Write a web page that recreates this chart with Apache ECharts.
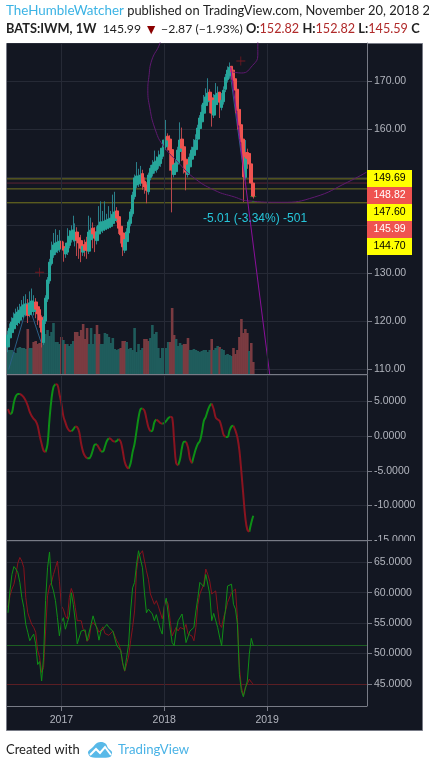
<!DOCTYPE html>
<html><head><meta charset="utf-8"><style>html,body{margin:0;padding:0;background:#fff}#c{width:429px;height:768px}</style>
<script src="https://cdn.jsdelivr.net/npm/echarts@6/dist/echarts.min.js"></script></head>
<body><div id="c"></div><script>
const yearLabels=['2017','2018','2019'];
const yearIndex=[27,79,131];
const totalWeeks=182;
const open=[114.6,116.5,117.6,118.4,119.3,119.7,120.2,120.9,121.4,121.6,
123.4,121.4,122,122,124,123,122.4,120.8,115.5,120,
124.6,128.4,132,133.8,134.4,134.8,135,136.7,135.6,134,
134.4,135.8,137,137.2,136.8,138.6,137.4,136.8,134.4,136,
136.5,134.6,137,139.4,138.6,136.8,138.2,138.8,139,139.2,
139.4,139.6,139.8,140.4,141,143,141.8,139.8,138.4,134.8,
136.6,138.4,140.4,142.4,146,148.4,148.6,148.8,150.8,149.2,
148.4,147,150,150.8,151.4,151.6,152.4,152.9,154.4,155.8,
156.4,158.6,158,155.8,150.6,151.2,152.8,155.4,158,156.4,
153.8,150.6,152.2,153.8,154.6,155.8,158,160.2,161.6,163.4,
165,165.8,167.8,166.6,163,165.2,165.8,167.8,164.6,165.8,
168.4,170.4,171.2,173.2,172.4,170.6,168.4,164.2,161,158,
150,155.2,155,152.82,148.82];
const close=[117.1,118.5,119.8,120.6,121.5,121.9,122.3,123,123.4,123.6,
121.2,123.8,124.2,123.6,122.5,121.5,120.2,117.7,120.2,124.8,
128.6,132.3,134.8,135.9,136.3,136.5,136.7,135.2,134.8,135.2,
136.3,137.7,138.8,139,138.5,136.9,136.3,135.2,135.6,134.8,
134.8,138.6,139,138.2,137.3,138.6,140,140.7,140.7,140.9,
141.1,141.3,141.5,142.3,142.8,141.5,139.4,138,135.5,137,
138.6,140.7,142.8,146.3,149.9,150.3,150.3,150.5,148.8,148,
147.3,150.5,151.9,152.6,153.2,153.4,154.2,154.7,156.1,157.8,
158.4,157.8,155.7,151.5,152.6,153,155.7,157.8,156.1,153.6,
151.1,152.6,154.2,155.7,156.3,157.8,160.3,162.4,163.6,165.5,
166.8,167.6,166.1,163.4,166.1,167.2,167.6,165.7,166.1,168.2,
170.9,172.4,173,172,170.3,168.2,164,160.9,157.4,150.1,
154.2,154,152.8,148.82,145.99];
const high=[118,119.5,120.8,121.8,122.6,123,123.6,124.4,125.2,125.6,
124.6,126.2,126.8,125.4,124.8,123.8,122.8,121.2,121,125.4,
129.2,133,136.6,138.4,139.2,138,139,137.6,136.6,136,
139.4,139,140,142,140.4,139.6,138.4,138,136.4,137,
137.6,142,141.6,140.6,139.6,139.8,144,145,143,145,
142.4,144,143,146.4,147,143.8,142.6,140.4,139,137.8,
139.4,141.2,143.4,147,150.6,153.2,151.8,152.4,151.6,150,
149,151,152.6,153.6,155.6,154.4,155.6,156,157.2,159.2,
162,159.2,158.8,156.6,153.4,153.8,156.4,161.5,160.4,157.2,
154.6,153.4,155,156.4,158,159,161,163,165.2,167.2,
168.6,170.7,168.4,167.2,167.4,169.7,169,167.4,167.6,169,
171.6,173.2,174,172.8,171.2,169,165,162,158.5,157,
157.8,156,153.2,152.82,148.82];
const low=[113.5,115.8,116.8,117.8,118.6,119,119.4,120.2,120.6,121,
119.6,120.8,121.2,121.2,120.6,119.2,118.6,114.5,115,119.4,
124,127.8,131.6,133.2,133.8,134.2,134.4,133,132.4,133.2,
133.8,135.2,136.4,136.6,135.6,133.6,133,132.3,133.6,133.5,
133,134,136.2,135.2,134.4,136,137.6,138.2,138.4,138.8,
139,139.2,139.4,139.8,140.4,140.6,138.2,136.2,133.6,134.2,
136,137.8,139.8,141.8,145.4,147.8,148,148.2,147.4,146.6,
144.6,146.4,149.4,150.2,150.8,151,151.8,152.2,153.8,155.2,
155.8,155.6,151.4,142.7,150,150.6,152.2,154.8,153.4,150.8,
147.3,150,151.6,153.2,154,155.2,157.4,159.6,161,162.8,
164.4,165.2,163.4,160.6,162.4,164.6,165.2,162.4,164,165.2,
167.8,169.8,170.6,170.4,168.6,163.4,160,158,155,144.9,
149.6,151.8,150.6,147.8,145.59];
const volume=[2.4,2.4,2.4,2.2,2.1,2.6,2.7,2.6,2.6,2.5,
4.5,2.6,2.6,3.2,3.3,3,3.1,2.9,3.4,4,
4.4,3.8,4.2,5.1,3.2,3.2,3,3.7,3.4,3,
3,2.8,3,3.3,4.2,4.2,3.8,4.4,5,3.5,
4.6,3,4.6,3,4,4.9,4,3,3,4.1,
4,3.7,3.1,3.6,2.5,2.4,2.5,2.6,3.3,3.3,
3.2,2.5,2.6,2.4,4.6,2.2,3,2.4,2.6,3.5,
3.5,3.3,3.6,4.9,4,4.2,2.6,1.6,2.6,2.6,
2.6,3.2,3.2,6.6,3.9,3.5,2.8,3.1,2.9,3,
3,3.6,2.4,2.4,2.5,2.4,2.3,2.2,2.3,2.4,
2.4,2.2,2.4,3.5,2.4,2.6,2.8,2.7,2.5,2.4,
1.9,2,1.9,1.8,2.6,2,2.4,3.7,5.5,4.1,
4.5,4.1,2.3,3.1,1.2];
const volumeDownWeeks=[10,13,14,15,16,17,27,29,34,35,36,37,38,39,40,45,46,57,58,59,69,70,71,82,83,84,89,90,91,103,107,114,115,116,117,118,119,120,121,123,124];
const macd=[3.9,3.2,3.4,4.9,5.8,6.1,6.1,5.9,5.6,5.1,
4.4,3.5,2.9,2.5,2.2,1.5,0.1,-1.1,-2.1,-2.3,
-1.1,2.5,5.4,7.1,7.5,7.4,6.1,4.7,2.9,2,
1.2,0.8,0.7,1,1.4,1.3,0.6,-1.1,-2.3,-2.9,
-3.2,-3.2,-2.8,-1.9,-1.2,-1.2,-1.7,-2.2,-2.2,-1.5,
-0.7,-0.3,-0.4,-0.7,-0.8,-0.7,-0.4,-0.8,-2.1,-3.7,
-4.4,-4.7,-3.9,-2.3,-1.1,0.8,2.7,3.9,4,3.7,
2.5,1.3,0.7,0.8,2,2.4,2.2,1.9,1.8,1.9,
2.2,2.6,2.8,2.7,-0.7,-3.9,-4.2,-3.3,-1.6,-0.8,
-0.8,-1.6,-3.3,-3.9,-2.8,-1.8,-1.1,-0.7,0.5,2.2,
2.8,3.7,4.4,4.7,3.9,2.7,2.4,2.2,1.3,0.2,
-0.1,-0.1,0.8,1.4,1.5,0.8,-0.2,-2.1,-5.2,-8.6,
-11.8,-13.5,-13.8,-12.5,-11.5];
const stochFast=[56.7,60.3,63,64.3,63.9,63.3,61.7,59.2,57.6,54.8,
53.5,52.1,52.7,53.2,51.6,48.2,48.7,45.5,49.4,58.7,
64.1,66.7,61.4,60.3,58.7,55.9,52.9,55.1,55.9,54,
55.1,56.2,60,58.1,55.4,51.6,51.8,53.7,53.5,53.9,
52.1,52.2,54.8,56.2,56.5,54,52.2,53.7,53.9,54.4,
54.8,54.3,54,53.7,53.7,51.3,51.4,50.5,48.5,47.2,
49.4,51.6,57,60.8,61.7,64.7,66.9,67,64.1,60,
56.7,57.3,57.3,56.5,55.4,56.4,55.1,54,53.2,57.8,
59.1,56.5,54,51.8,51.3,53.7,55.4,55.7,56.5,54.3,
51.8,51.8,53.7,53.5,54.3,57,59.2,61.7,61.4,61,
63,63,59.8,55.4,56.6,56.6,54.3,52.7,51.3,54.8,
57.3,61.1,60.8,61.4,58.1,57.3,54.8,46.6,43.9,42.9,
43.1,45.5,49.9,52.5,51.3];
const stochSlow=[57.6,59.5,60.6,61.4,63,64.9,65.8,65.2,64.1,59.2,
56.7,55.7,54.8,54.3,53.5,50.5,49.4,46.9,47.7,53.7,
59.5,61.1,61.7,63,64.1,65.2,61.9,57.8,57.3,56.2,
55.7,59.2,60.7,59.8,57.6,55.4,55.7,55.4,54,53.5,
52,52.4,54.6,55.1,54.8,54.3,53.5,53.9,54.4,53.3,
53.1,53,53.3,53.7,53.5,52.1,51.6,50.5,48.3,47.1,
48.3,49.6,52.1,54.3,57,63.6,66,66.3,66.9,65.2,
63.6,62.2,59.8,59.5,58.1,58.7,57.8,57.6,55.7,57.6,
58.8,58.1,55.4,52.9,53.2,54.3,53.7,54.3,54.6,54,
54.8,53.2,53.2,52.9,52.1,54.3,58.1,59.8,60,61.4,
63.9,63,61.9,59.8,59.5,60.3,57.3,54.8,54.3,55.9,
57,58.4,58.4,60,60.3,60.6,55.9,47.7,44.5,43.1,
44.5,45,45.8,45.3,45];
const oliveLevels=[149.69,147.60,144.70];
const maroonLevels=[148.82];
const stochGreenLevel=51.3;
const stochRedLevel=45;
const bigArc=[[78.8,181.8],[76.8,178],[72.7,174.5],[71.2,170.9],[70.7,168.2],[71.7,164.5],[74.2,160.3],[78.3,156.7],[85.9,153.2],[93.4,150.1],[104.5,147.3],[114.6,145.9],[121.2,145.1],[138.4,144.8],[155,145.9],[171.7,149],[181.3,151.1]];
const smallArc=[[126.3,179.7],[126.3,178],[126.3,175.5],[123.7,173.4],[118.2,171.8],[113.6,172]];
const trendLine=[[112.6,173],[132.3,108.9]];
const blueBump=[[0,109.4],[10.1,123.8],[17.2,115]];
const blueDrop=[[112.1,172.4],[119.7,149.4]];
const crosses=[[16,130.2],[117.7,174.3]];
const greenMarks=[[123,146],[125,146],[124,145]];
const priceBoxes=[['149.69','#ffff00','#000'],['148.82','#ef5350','#fff'],['147.60','#ffff00','#000'],['145.99','#ef5350','#fff'],['144.70','#ffff00','#000']];

const BG='#131722',GRID='#262a36',AX='#787b86',LBL='#b2b5be',TEAL='#26a69a',RED='#ef5350';
const sans='"Liberation Sans",Arial,sans-serif', head='Lato,sans-serif';
const categories=Array.from({length:totalWeeks},(_,i)=>{const k=yearIndex.indexOf(i);return k>=0?yearLabels[k]:'';});
const isYear=i=>yearIndex.includes(i);
const wicks=open.map((o,i)=>[o,close[i],low[i],high[i]]);
const bodies=open.map((o,i)=>[o,close[i],Math.min(o,close[i]),Math.max(o,close[i])]);
const volData=volume.map((v,i)=>({value:v,itemStyle:{color:volumeDownWeeks.includes(i)?'#7a3b41':'#1f5c5c'}}));
const up=macd.map((v,i)=>(i>0&&macd[i]>=macd[i-1])||(i<macd.length-1&&macd[i+1]>=v)?v:null);
const dn=macd.map((v,i)=>(i>0&&macd[i]<macd[i-1])||(i<macd.length-1&&macd[i+1]<v)?v:null);
const span=[-0.5,totalWeeks-0.5];

function catAxis(g,labels){return {type:'category',gridIndex:g,data:categories,boundaryGap:true,
 axisLine:{show:labels,onZero:false,lineStyle:{color:AX}},
 axisTick:{show:labels,alignWithLabel:true,length:5,interval:(i)=>isYear(i),lineStyle:{color:AX}},
 axisLabel:{show:labels,interval:(i)=>isYear(i),color:LBL,fontFamily:sans,fontSize:10.5,margin:9},
 splitLine:{show:false}};}
const valX=g=>({type:'value',gridIndex:g,min:span[0],max:span[1],show:false,splitLine:{show:false}});
const hidY=(g,min,max)=>({type:'value',gridIndex:g,min,max,show:false,splitLine:{show:false}});
function yAxis(g,min,max,iv,dec){return {type:'value',gridIndex:g,position:'right',min,max,interval:iv,
 axisLine:{show:true,onZero:false,lineStyle:{color:AX}},axisTick:{show:true,length:5,lineStyle:{color:AX}},
 splitLine:{show:true,lineStyle:{color:GRID,width:1}},
 axisLabel:{color:LBL,fontFamily:sans,fontSize:10.5,margin:7,
  formatter:v=>Math.abs(v/iv-Math.round(v/iv))<1e-6?v.toFixed(dec):''}};}
const lineS=(name,data,color,width,z,smooth,clip)=>({name,type:'line',xAxisIndex:3,yAxisIndex:0,data,symbol:'none',smooth:smooth?0.5:false,z,silent:true,clip:clip!==false,lineStyle:{color,width}});
const yearLines=()=>({silent:true,symbol:'none',label:{show:false},lineStyle:{color:GRID,width:1,type:'solid'},data:yearIndex.map(i=>({xAxis:i}))});
const levelLine=(vals,color)=>({silent:true,symbol:'none',label:{show:false},z:2,lineStyle:{color,width:1,type:'solid'},data:vals.map(v=>({yAxis:v}))});
const G={left:7,width:360};

const option={animation:false,backgroundColor:'#fff',
 grid:[{...G,top:43,height:331},{...G,top:375,height:165},{...G,top:541,height:165},
       {...G,top:43,height:326},{...G,top:541,height:143}],
 xAxis:[catAxis(0,false),catAxis(1,false),catAxis(2,true),valX(3),catAxis(3,false),catAxis(4,false)],
 yAxis:[yAxis(3,110,178.06,10,2),
  hidY(0,0,33.1),
  yAxis(1,-15,8.84,5,4),
  yAxis(4,45,68.5,5,4),
  hidY(2,0,1)],
 series:[
  {name:'Volume',type:'bar',xAxisIndex:0,yAxisIndex:1,data:volData,barWidth:2.6,z:2,silent:true,markLine:yearLines()},
  lineS('BlueBump',blueBump,'#2b5f86',1,2.5),
  lineS('BlueDrop',blueDrop,'#2b5f86',1,2.5),
  ...oliveLevels.map(v=>lineS('Level '+v,[[span[0],v],[span[1],v]],'#77771f',1,2.6)),
  ...maroonLevels.map(v=>lineS('Level '+v,[[span[0],v],[span[1],v]],'#5e2433',1,2.6)),
  {name:'Wicks',type:'candlestick',xAxisIndex:4,yAxisIndex:0,data:wicks,barWidth:1,z:3,silent:true,
   itemStyle:{color:'#2a7f8a',color0:'#b8474c',borderColor:'#2a7f8a',borderColor0:'#b8474c',borderWidth:1}},
  {name:'BATS:IWM',type:'candlestick',xAxisIndex:4,yAxisIndex:0,data:bodies,barWidth:3.2,z:3.2,silent:true,
   itemStyle:{color:TEAL,color0:RED,borderColor:TEAL,borderColor0:RED,borderWidth:1}},
  lineS('Arc',bigArc,'#5f1a70',1,4,true),
  lineS('SmallArc',smallArc,'#5f1a70',1,4,true),
  lineS('Trend',trendLine,'#8a0f9a',1,4,false,false),
  {name:'Cross',type:'scatter',xAxisIndex:3,yAxisIndex:0,data:crosses,symbol:'path://M5 0H6V5H11V6H6V11H5V6H0V5H5Z',symbolSize:9,itemStyle:{color:'#8b1a22'},z:5,silent:true},
  {name:'Marks',type:'scatter',xAxisIndex:3,yAxisIndex:0,data:greenMarks,symbol:'rect',symbolSize:[2,1],itemStyle:{color:'#1f8a2a'},z:5,silent:true},
  {name:'MACD up',type:'line',xAxisIndex:1,yAxisIndex:2,data:up,symbol:'none',smooth:0.4,connectNulls:false,lineStyle:{color:'#0d8f16',width:2},z:3,silent:true,markLine:yearLines()},
  {name:'MACD down',type:'line',xAxisIndex:1,yAxisIndex:2,data:dn,symbol:'none',smooth:0.4,connectNulls:false,lineStyle:{color:'#8a1420',width:2},z:3,silent:true},
  {name:'Year lines',type:'bar',xAxisIndex:2,yAxisIndex:4,data:[0],barWidth:1,silent:true,z:1,itemStyle:{color:'rgba(0,0,0,0)'},markLine:yearLines()},
  {name:'Stoch slow',type:'line',xAxisIndex:5,yAxisIndex:3,data:stochSlow,clip:false,symbol:'none',lineStyle:{color:'#86121c',width:1},z:3,silent:true,markLine:levelLine([stochRedLevel],'#5a1e24')},
  {name:'Stoch fast',type:'line',xAxisIndex:5,yAxisIndex:3,data:stochFast,clip:false,symbol:'none',lineStyle:{color:'#0f8f16',width:1},z:4,silent:true,markLine:levelLine([stochGreenLevel],'#1d5e22')}
 ],
 graphic:{elements:[
  {type:'rect',z:-10,shape:{x:6.5,y:43.5,width:416,height:687},style:{fill:BG,stroke:AX,lineWidth:1},silent:true},
  {type:'rect',z:60,shape:{x:368,y:541,width:54,height:10},style:{fill:BG},silent:true},
  {type:'rect',z:60,shape:{x:368,y:375,width:6,height:3},style:{fill:BG},silent:true},
  {type:'line',z:61,shape:{x1:6,y1:374.5,x2:367,y2:374.5},style:{stroke:AX,lineWidth:1},silent:true},
  {type:'line',z:61,shape:{x1:6,y1:540.5,x2:367,y2:540.5},style:{stroke:AX,lineWidth:1},silent:true},
  {type:'line',z:61,shape:{x1:6,y1:706.5,x2:367,y2:706.5},style:{stroke:AX,lineWidth:1},silent:true},
  {type:'line',z:61,shape:{x1:367.5,y1:43,x2:367.5,y2:706},style:{stroke:AX,lineWidth:1},silent:true},
  ...priceBoxes.map((b,i)=>({type:'group',z:70,children:[
    {type:'rect',z:70,shape:{x:367,y:170+17*i,width:45,height:17},style:{fill:b[1]},silent:true},
    {type:'text',z:71,style:{x:389.5,y:178.5+17*i,text:b[0],fill:b[2],font:'10.5px '+sans,textAlign:'center',textVerticalAlign:'middle'},silent:true}]})),
  {type:'text',z:20,style:{x:203,y:219,text:'-5.01 (-3.34%) -501',fill:'#26c6da',font:'12px '+sans,textVerticalAlign:'middle'},silent:true},
  {type:'text',z:20,style:{x:6,y:11,textVerticalAlign:'middle',text:'{b|TheHumbleWatcher}{d| published on TradingView.com, November 20, 2018 2}',
    rich:{b:{fill:'#3bb3e4',font:'13.4px '+head},d:{fill:'#222',font:'12.9px '+head}}},silent:true},
  {type:'text',z:20,style:{x:6,y:29,textVerticalAlign:'middle',
    text:'{k|BATS:IWM, 1W}{d|  145.99 }{t|▼}{d| −2.87 (−1.93%) }{k|O:}{r|152.82} {k|H:}{r|152.82} {k|L:}{r|145.59} {k|C}',
    rich:{k:{fill:'#222',font:'bold 12.8px '+head},d:{fill:'#222',font:'12.2px '+head},r:{fill:'#b02a2a',font:'12.6px '+head},t:{fill:'#8b0000',font:'14px '+head}}},silent:true},
  {type:'text',z:20,style:{x:6,y:750,text:'Created with',fill:'#222',font:'13px '+head,textVerticalAlign:'middle'},silent:true},
  {type:'text',z:20,style:{x:118,y:750,text:'TradingView',fill:'#4ab3e6',font:'13.2px '+head,textVerticalAlign:'middle'},silent:true},
  {type:'polygon',z:20,silent:true,shape:{smooth:0.3,points:[[88,752],[93,747],[97,743],[102,742],[106,744],[108,748],[112,752],[110,757],[91,757]]},style:{fill:'#58b9e8'}},
  {type:'polyline',z:21,silent:true,shape:{points:[[90,755],[96,749],[100,753],[105,747],[111,755]]},style:{fill:'none',stroke:'#fff',lineWidth:2}}
 ]}
};
const chart=echarts.init(document.getElementById('c'));
chart.setOption(option);
</script></body></html>
